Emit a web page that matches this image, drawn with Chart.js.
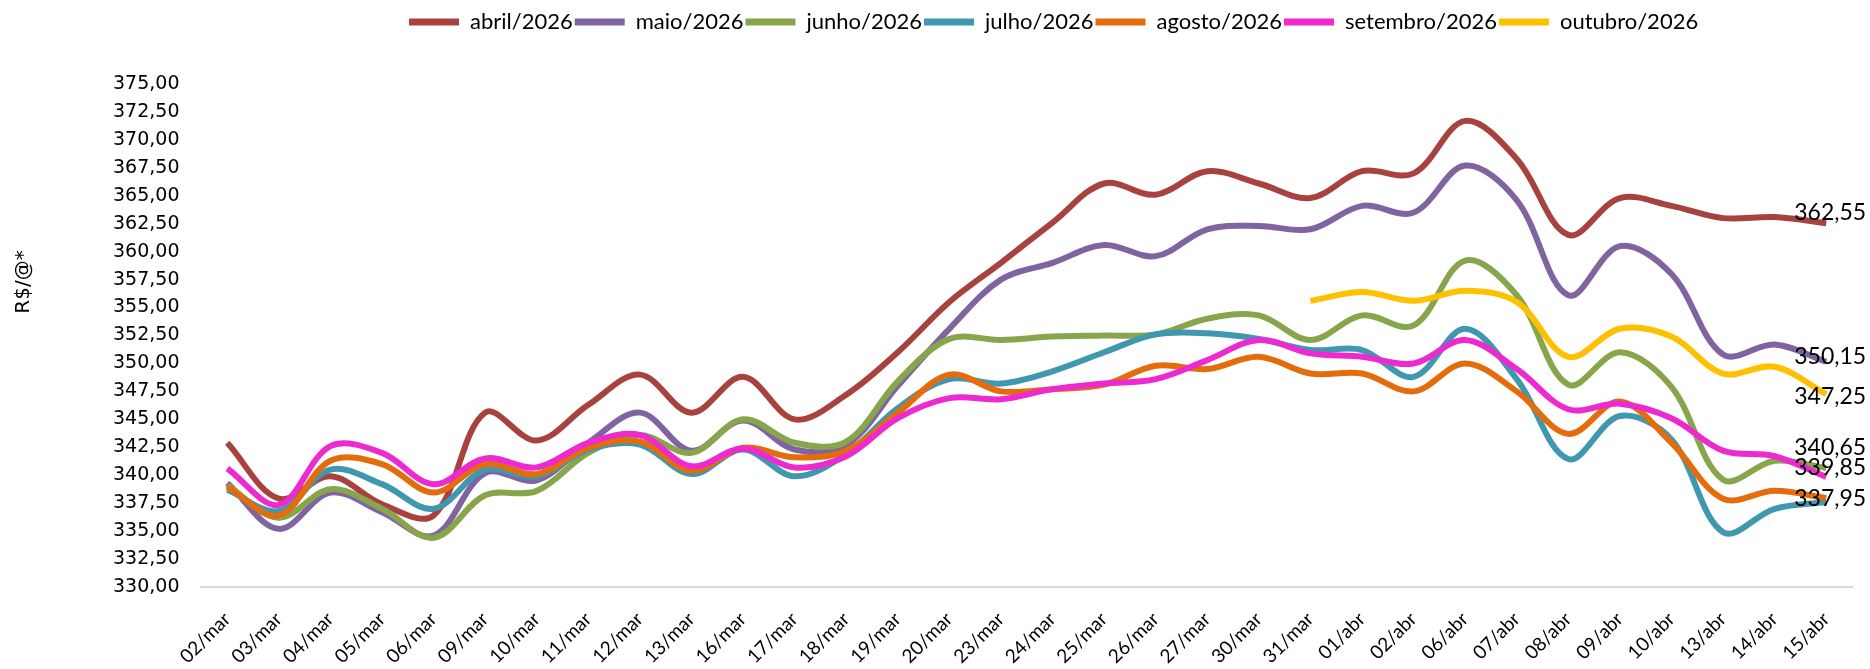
<!DOCTYPE html>
<html>
<head>
<meta charset="utf-8">
<script src="https://cdn.jsdelivr.net/npm/chart.js@4.4.1/dist/chart.umd.min.js"></script>
<style>
  html, body { margin: 0; padding: 0; background: #fff; }
  #wrap { width: 1870px; height: 669px; }
</style>
</head>
<body>
<div id="wrap"><canvas id="chart" width="1870" height="669"></canvas></div>
<script>
// Dates on the x axis
const labels = ['02/mar','03/mar','04/mar','05/mar','06/mar','09/mar','10/mar','11/mar','12/mar','13/mar',
  '16/mar','17/mar','18/mar','19/mar','20/mar','23/mar','24/mar','25/mar','26/mar','27/mar','30/mar','31/mar',
  '01/abr','02/abr','06/abr','07/abr','08/abr','09/abr','10/abr','13/abr','14/abr','15/abr'];

// Prices in R$/@ per contract month
const abril = [342.9, 337.9, 339.9, 337.4, 336.4, 345.6, 343.1, 346.3, 349.0, 345.6, 348.8, 345.0, 347.2, 351.0,
  355.5, 359.0, 362.6, 366.1, 365.1, 367.2, 366.1, 364.8, 367.2, 367.0, 371.7, 368.3, 361.5, 364.8, 364.1, 363.0, 363.1, 362.55];
const maio = [339.3, 335.2, 338.45, 336.7, 334.6, 340.2, 339.55, 342.9, 345.6, 342.2, 344.9, 342.3, 342.7, 348.0,
  353.1, 357.5, 359.0, 360.6, 359.6, 362.0, 362.3, 362.0, 364.1, 363.5, 367.7, 364.6, 356.1, 360.5, 358.0, 350.8, 351.7, 350.15];
const junho = [339.1, 336.2, 338.75, 337.0, 334.4, 338.2, 338.6, 342.0, 343.6, 342.0, 345.0, 342.9, 343.0, 348.4,
  352.2, 352.1, 352.4, 352.5, 352.6, 354.0, 354.3, 352.1, 354.3, 353.4, 359.2, 356.1, 348.1, 351.0, 347.9, 339.6, 341.3, 340.65];
const julho = [338.7, 336.8, 340.5, 339.2, 337.0, 340.5, 339.9, 342.3, 342.75, 340.1, 342.3, 339.9, 341.9, 346.0,
  348.6, 348.2, 349.3, 351.0, 352.6, 352.7, 352.2, 351.2, 351.2, 348.8, 353.1, 348.6, 341.45, 345.3, 343.2, 334.9, 337.0, 337.6];
const agosto = [338.96, 336.4, 341.3, 341.0, 338.45, 340.98, 340.1, 342.45, 343.0, 340.4, 342.45, 341.6, 342.2, 345.6,
  349.0, 347.5, 347.7, 348.1, 349.8, 349.5, 350.6, 349.1, 349.1, 347.5, 350.0, 347.5, 343.7, 346.6, 342.9, 337.9, 338.6, 337.95];
const setembro = [340.6, 337.35, 342.6, 342.0, 339.2, 341.5, 340.7, 342.9, 343.6, 340.8, 342.4, 340.7, 341.7, 345.1,
  346.9, 346.8, 347.7, 348.2, 348.6, 350.3, 352.1, 350.9, 350.6, 350.0, 352.1, 349.5, 345.9, 346.4, 345.1, 342.2, 341.7, 339.85];
const outubro = [null, null, null, null, null, null, null, null, null, null, null, null, null, null,
  null, null, null, null, null, null, null, 355.6, 356.4, 355.6, 356.5, 355.5, 350.6, 353.1, 352.4, 349.1, 349.7, 347.25];

const seriesNames = ['abril/2026','maio/2026','junho/2026','julho/2026','agosto/2026','setembro/2026','outubro/2026'];
const seriesData = [abril, maio, junho, julho, agosto, setembro, outubro];
const showEndLabel = [true, true, true, false, true, true, true];
const yTitle = 'R$/@*';

// styling
const colors = ['#A8423F','#8064A2','#87A64B','#4098B0','#E46C0A','#EC2AD0','#FFC000'];
const labelDy = [-11, -5, -20, 0, 0, -9, 2];   // nudges so end labels don't collide
const sansFont = '"DejaVu Sans", sans-serif';
const calibriLike = 'Lato, "Open Sans", sans-serif';
const legendStartX = 409;
const legendExtra = 41;
const xAxisHeight = 80;
const titlePos = { x: 24, y: 282 };

// move legend row so it starts where the original one does, and leave room under it
const legendTweak = {
  id: 'legendTweak',
  beforeInit(chart) {
    const origFit = chart.legend.fit;
    chart.legend.fit = function () {
      origFit.call(this);
      this.height += legendExtra;
    };
  },
  afterLayout(chart) {
    const lg = chart.legend;
    const pad = lg.options.labels.padding;
    const w = lg.right - lg.left;
    lg.left = legendStartX - pad;
    lg.right = lg.left + w;
  }
};

// y axis title, placed like the original (above the middle of the axis)
const axisTitle = {
  id: 'axisTitle',
  afterDraw(chart) {
    const ctx = chart.ctx;
    ctx.save();
    ctx.translate(titlePos.x, titlePos.y);
    ctx.rotate(-Math.PI / 2);
    ctx.font = '20px ' + sansFont;
    ctx.fillStyle = '#000';
    ctx.textAlign = 'center';
    ctx.textBaseline = 'middle';
    ctx.fillText(yTitle, 0, 0);
    ctx.restore();
  }
};

// value labels at the last point of each series
const endLabels = {
  id: 'endLabels',
  afterDatasetsDraw(chart) {
    const ctx = chart.ctx;
    ctx.save();
    ctx.font = '23px ' + calibriLike;
    ctx.fillStyle = '#000';
    ctx.textAlign = 'center';
    ctx.textBaseline = 'middle';
    chart.data.datasets.forEach((ds, i) => {
      if (!showEndLabel[i]) return;
      const meta = chart.getDatasetMeta(i);
      const last = ds.data.length - 1;
      const pt = meta.data[last];
      ctx.fillText(ds.data[last].toFixed(2).replace('.', ','), pt.x + 4, pt.y + labelDy[i]);
    });
    ctx.restore();
  }
};

new Chart(document.getElementById('chart'), {
  type: 'line',
  data: {
    labels: labels,
    datasets: seriesData.map((d, i) => ({
      label: seriesNames[i],
      data: d,
      borderColor: colors[i],
      backgroundColor: colors[i],
      borderWidth: 6,
      pointRadius: 0,
      tension: 0.35,
      fill: false,
      order: seriesData.length - 1 - i
    }))
  },
  options: {
    responsive: false,
    animation: false,
    layout: { padding: { left: 91, right: 18, top: 9, bottom: 2 } },
    plugins: {
      legend: {
        position: 'top',
        align: 'start',
        labels: {
          boxWidth: 50,
          boxHeight: 7,
          padding: 2,
          useBorderRadius: true,
          borderRadius: 3.5,
          color: '#000',
          font: { family: calibriLike, size: 22 },
          generateLabels(chart) {
            return chart.data.datasets.map((ds, i) => ({
              text: ds.label,
              fillStyle: ds.borderColor,
              strokeStyle: ds.borderColor,
              lineWidth: 0,
              fontColor: '#000',
              hidden: !chart.isDatasetVisible(i),
              datasetIndex: i
            }));
          }
        }
      },
      tooltip: { enabled: false }
    },
    scales: {
      x: {
        offset: true,
        grid: { display: false, drawTicks: false },
        border: { display: true, color: '#D9D9D9', width: 2 },
        ticks: { color: '#000', font: { family: calibriLike, size: 19 }, minRotation: 45, maxRotation: 45, padding: 21, autoSkip: false },
        afterFit(scale) { scale.height = xAxisHeight; }
      },
      y: {
        min: 330,
        max: 375,
        grid: { display: false, drawTicks: false },
        border: { display: false },
        ticks: {
          stepSize: 2.5,
          color: '#000',
          font: { family: sansFont, size: 19 },
          padding: 22,
          callback: v => v.toFixed(2).replace('.', ',')
        }
      }
    }
  },
  plugins: [legendTweak, axisTitle, endLabels]
});
</script>
</body>
</html>
